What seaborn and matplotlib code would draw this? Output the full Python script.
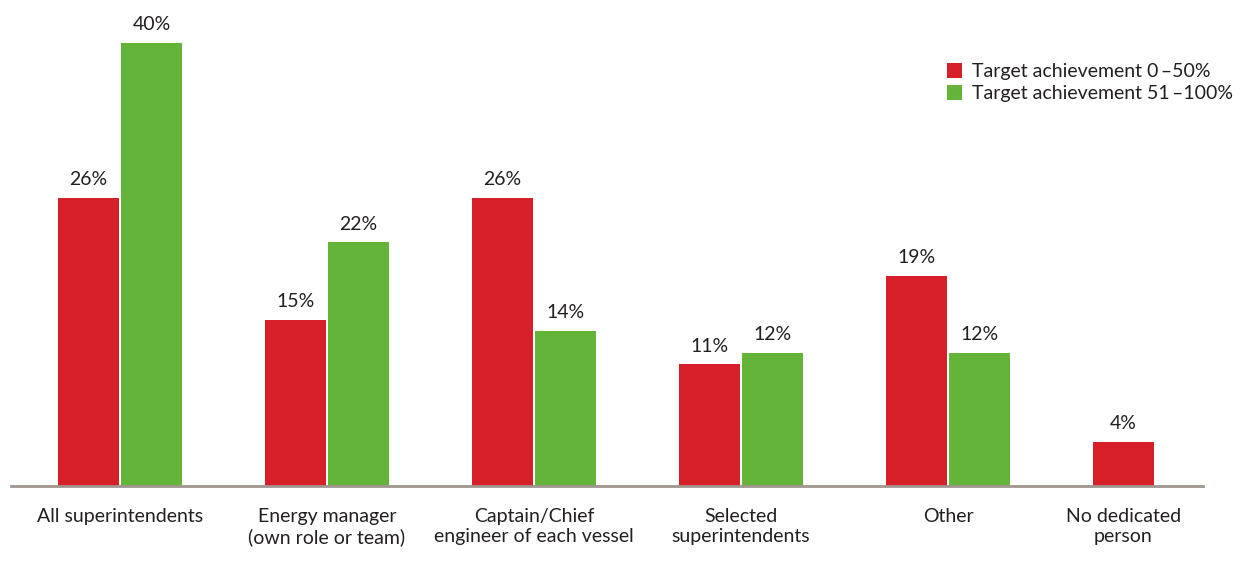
import numpy as np
import pandas as pd
import matplotlib
matplotlib.use("Agg")
import matplotlib.pyplot as plt
import matplotlib.transforms as mtransforms
import seaborn as sns

categories = [
    "All superintendents",
    "Energy manager\n(own role or team)",
    "Captain/Chief\nengineer of each vessel",
    "Selected\nsuperintendents",
    "Other",
    "No dedicated\nperson",
]
series_names = ["Target achievement 0\u2009\u201350%", "Target achievement 51\u2009\u2013100%"]
low_values = [26, 15, 26, 11, 19, 4]
high_values = [40, 22, 14, 12, 12, 0]
colors = ["#d71f29", "#65b43a"]

df = pd.DataFrame({
    "category": categories * 2,
    "series": [series_names[0]] * len(categories) + [series_names[1]] * len(categories),
    "value": low_values + high_values,
})

sns.set_theme(style="white")
plt.rcParams["font.family"] = ["Lato", "DejaVu Sans"]
text_color = "#231f20"
fs = 14

fig = plt.figure(figsize=(12.42, 5.67), dpi=100)
ax = fig.add_axes([11 / 1242, 81 / 567, 1192 / 1242, 476 / 567])

sns.barplot(
    data=df, x="category", y="value", hue="series", order=categories,
    hue_order=series_names, palette=colors, width=0.61, gap=0.04,
    linewidth=0, saturation=1, ax=ax, legend=True,
)

for container, vals in zip(ax.containers, [low_values, high_values]):
    labels = [f"{v}%" if v > 0 else "" for v in vals]
    ax.bar_label(container, labels=labels, padding=7, fontsize=fs, color=text_color)

ax.set_xlim(-0.527, 5.232)
ax.set_ylim(0, 43)
ax.set_xlabel("")
ax.set_ylabel("")
ax.set_yticks([])
ax.tick_params(axis="x", length=0, pad=16, labelsize=fs, labelcolor=text_color)
for lbl in ax.get_xticklabels():
    lbl.set_linespacing(1.2)

# the last group has a single bar, so centre its label under that bar
fig.canvas.draw()
last_bar = ax.containers[0][-1]
bar_center = last_bar.get_x() + last_bar.get_width() / 2
dx_px = (ax.transData.transform((bar_center, 0))[0]
         - ax.transData.transform((len(categories) - 1, 0))[0])
last_lbl = ax.get_xticklabels()[-1]
last_lbl.set_transform(mtransforms.offset_copy(
    last_lbl.get_transform(), fig=fig, x=dx_px * 72 / fig.dpi, units="points"))

for side in ["top", "right", "left"]:
    ax.spines[side].set_visible(False)
ax.spines["bottom"].set_color("#a0958f")
ax.spines["bottom"].set_linewidth(2)

leg = ax.legend(
    loc="upper right", bbox_to_anchor=(1.04, 0.925), frameon=False,
    fontsize=fs, handlelength=0.8, handleheight=0.8, handletextpad=0.5,
    labelspacing=0.25, labelcolor=text_color,
)

fig.savefig("out.png", dpi=100)
